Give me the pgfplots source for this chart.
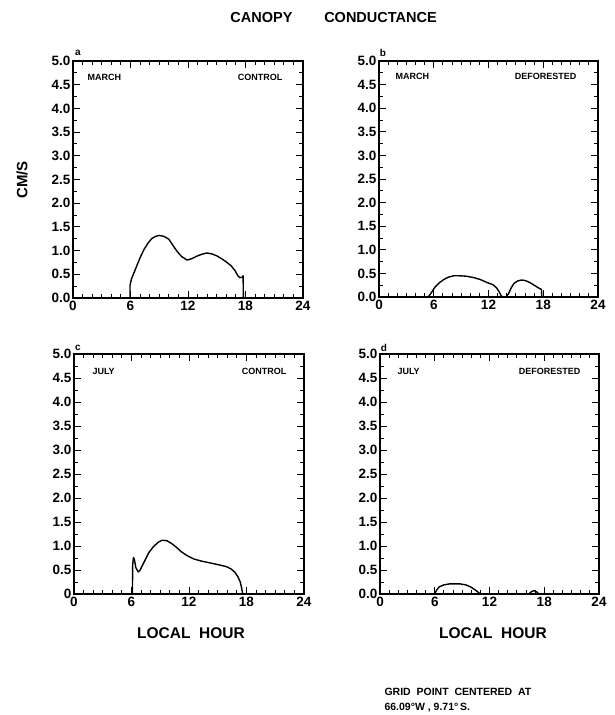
\documentclass[border=0pt]{standalone}
\usepackage{fontspec}
\setmainfont{Liberation Sans}
\usepackage{pgfplots}
\pgfplotsset{compat=1.18}

\pgfplotsset{
  panel/.style={
    scale only axis, anchor=south west,
    xmin=0, xmax=24, ymin=0, ymax=5,
    xtick={0,6,12,18,24}, minor x tick num=5,
    ytick={0,0.5,1,1.5,2,2.5,3,3.5,4,4.5,5}, minor y tick num=1,
    xticklabels={0,6,12,18,24},
    yticklabels={0.0,0.5,1.0,1.5,2.0,2.5,3.0,3.5,4.0,4.5,5.0},
    tick align=inside,
    major tick length=7pt, minor tick length=4pt,
    axis line style={line width=1.1pt},
    every tick/.style={black, line width=0.9pt},
    ticklabel style={font=\fontsize{13.5}{15}\selectfont\bfseries},
    yticklabel style={xshift=1pt},
  },
  curve/.style={black, line width=1.4pt, no markers, line join=round},
}
\newcommand\tagfont{\fontsize{9}{10}\selectfont\bfseries}

\begin{document}
\begin{tikzpicture}[x=1pt,y=1pt]
\useasboundingbox (0,0) rectangle (614,715);

% (a) March, control
\begin{axis}[panel, at={(73pt,417pt)}, width=230pt, height=237pt]
\addplot[curve] coordinates {
  (5.95,0)(5.95,0.27)(6.1,0.40)(6.5,0.60)(7.0,0.85)(7.4,1.02)(7.8,1.15)
  (8.2,1.25)(8.6,1.30)(9.0,1.32)(9.5,1.30)(10.0,1.24)(10.4,1.12)(10.8,1.00)
  (11.3,0.88)(11.9,0.80)(12.4,0.83)(12.9,0.88)(13.4,0.92)(13.95,0.95)
  (14.5,0.93)(15.0,0.89)(15.5,0.83)(16.0,0.76)(16.5,0.68)(16.9,0.58)
  (17.2,0.47)(17.4,0.43)(17.7,0.44)(17.75,0.47)(17.78,0)
};
\end{axis}

% (b) March, deforested
\begin{axis}[panel, at={(379pt,418pt)}, width=219pt, height=236pt]
\addplot[curve] coordinates {
  (5.4,0)(5.7,0.08)(6.1,0.20)(6.6,0.30)(7.1,0.37)(7.6,0.42)(8.2,0.45)
  (8.8,0.45)(9.6,0.44)(10.4,0.41)(11.1,0.37)(11.8,0.31)(12.5,0.26)
  (12.9,0.19)(13.2,0.10)(13.4,0.02)(13.6,0.0)(13.9,0.0)(14.2,0.07)
  (14.5,0.20)(14.8,0.29)(15.2,0.34)(15.6,0.36)(16.0,0.35)(16.5,0.31)
  (17.0,0.25)(17.5,0.19)(17.8,0.16)(17.85,0)
};
\end{axis}

% (c) July, control
\begin{axis}[panel, at={(74pt,121pt)}, width=230pt, height=240pt,
  yticklabels={0,0.5,1.0,1.5,2.0,2.5,3.0,3.5,4.0,4.5,5.0}]
\addplot[curve] coordinates {
  (6.1,0)(6.12,0.6)(6.2,0.76)(6.3,0.72)(6.45,0.55)(6.7,0.46)(6.9,0.50)
  (7.3,0.66)(7.8,0.86)(8.3,0.99)(8.8,1.08)(9.2,1.12)(9.7,1.11)(10.2,1.05)
  (10.7,0.97)(11.2,0.88)(11.8,0.80)(12.5,0.73)(13.2,0.69)(13.9,0.66)
  (14.6,0.63)(15.3,0.60)(15.9,0.57)(16.4,0.52)(16.8,0.45)(17.1,0.36)
  (17.35,0.25)(17.5,0.12)(17.6,0)
};
\end{axis}

% (d) July, deforested
\begin{axis}[panel, at={(380pt,121pt)}, width=219pt, height=240pt]
\addplot[curve] coordinates {
  (6.0,0)(6.2,0.08)(6.5,0.15)(7.0,0.19)(7.6,0.21)(8.2,0.21)(8.8,0.21)
  (9.4,0.19)(9.9,0.15)(10.4,0.09)(10.8,0.03)(11.0,0)
};
\addplot[curve] coordinates {
  (16.3,0)(16.6,0.05)(16.9,0.07)(17.2,0.04)(17.4,0)
};
\end{axis}

% titles and labels
\node[font=\fontsize{14.5}{16}\selectfont\bfseries] at (261.5,697) {CANOPY};
\node[font=\fontsize{14.5}{16}\selectfont\bfseries] at (380.5,697) {CONDUCTANCE};
\node[font=\fontsize{15}{17}\selectfont\bfseries, rotate=90] at (22,535) {CM/S};

\node[font=\fontsize{10}{11}\selectfont\bfseries] at (78,662) {a};
\node[font=\fontsize{10}{11}\selectfont\bfseries] at (383,662) {b};
\node[font=\fontsize{10}{11}\selectfont\bfseries] at (78,367) {c};
\node[font=\fontsize{10}{11}\selectfont\bfseries] at (384,367) {d};

\node[font=\tagfont, anchor=west] at (84,638) {MARCH};
\node[font=\tagfont, anchor=east] at (286,638) {CONTROL};
\node[font=\tagfont, anchor=west] at (392,639) {MARCH};
\node[font=\tagfont, anchor=east] at (580,639) {DEFORESTED};
\node[font=\tagfont, anchor=west] at (89,344) {JULY};
\node[font=\tagfont, anchor=east] at (290,344) {CONTROL};
\node[font=\tagfont, anchor=west] at (394,344) {JULY};
\node[font=\tagfont, anchor=east] at (584,344) {DEFORESTED};

\node[font=\fontsize{15.5}{17}\selectfont\bfseries] at (191,82) {LOCAL\ \ HOUR};
\node[font=\fontsize{15.5}{17}\selectfont\bfseries] at (493,82) {LOCAL\ \ HOUR};

\node[font=\fontsize{10.5}{12}\selectfont\bfseries, anchor=west] at (381,23)
  {GRID\ \ POINT\ \ CENTERED\ \ AT};
\node[font=\fontsize{10.5}{12}\selectfont\bfseries, anchor=west] at (381,7)
  {66.09°W\ ,\ 9.71°\,S.};
\end{tikzpicture}
\end{document}
